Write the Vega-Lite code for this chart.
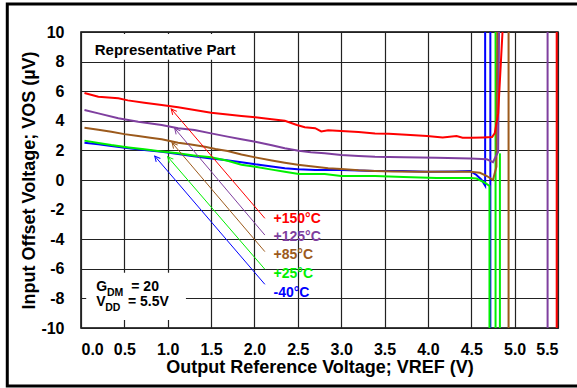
{
  "$schema": "https://vega.github.io/schema/vega-lite/v6.json",
  "width": 477,
  "height": 296,
  "autosize": {"type": "none"},
  "padding": {"left": 81, "top": 32, "right": 19, "bottom": 60},
  "background": "white",
  "config": {
    "font": "Liberation Sans",
    "view": {"stroke": "black", "strokeWidth": 1.5},
    "axis": {
      "grid": true, "gridColor": "#222", "gridWidth": 1.2, "domain": false, "ticks": false,
      "labelFont": "Liberation Sans", "labelFontWeight": "bold", "labelFontSize": 16, "labelColor": "black",
      "titleFont": "Liberation Sans", "titleFontWeight": "bold", "titleFontSize": 18, "titleColor": "black"
    }
  },
  "datasets": {
    "curves": [
      {"t":"-40°C","s":"b1","i":1,"x":0.04,"y":2.52},
      {"t":"-40°C","s":"b1","i":2,"x":0.2,"y":2.42},
      {"t":"-40°C","s":"b1","i":3,"x":0.35,"y":2.3},
      {"t":"-40°C","s":"b1","i":4,"x":0.55,"y":2.15},
      {"t":"-40°C","s":"b1","i":5,"x":0.73,"y":2.03},
      {"t":"-40°C","s":"b1","i":6,"x":0.93,"y":1.9},
      {"t":"-40°C","s":"b1","i":7,"x":1.12,"y":1.76},
      {"t":"-40°C","s":"b1","i":8,"x":1.3,"y":1.6},
      {"t":"-40°C","s":"b1","i":9,"x":1.5,"y":1.46},
      {"t":"-40°C","s":"b1","i":10,"x":1.66,"y":1.35},
      {"t":"-40°C","s":"b1","i":11,"x":1.85,"y":1.2},
      {"t":"-40°C","s":"b1","i":12,"x":2.01,"y":1.06},
      {"t":"-40°C","s":"b1","i":13,"x":2.2,"y":0.92},
      {"t":"-40°C","s":"b1","i":14,"x":2.35,"y":0.79},
      {"t":"-40°C","s":"b1","i":15,"x":2.5,"y":0.72},
      {"t":"-40°C","s":"b1","i":16,"x":2.7,"y":0.68},
      {"t":"-40°C","s":"b1","i":17,"x":3.0,"y":0.68},
      {"t":"-40°C","s":"b1","i":18,"x":3.2,"y":0.64},
      {"t":"-40°C","s":"b1","i":19,"x":3.39,"y":0.61},
      {"t":"-40°C","s":"b1","i":20,"x":3.7,"y":0.6},
      {"t":"-40°C","s":"b1","i":21,"x":4.0,"y":0.56},
      {"t":"-40°C","s":"b1","i":22,"x":4.3,"y":0.58},
      {"t":"-40°C","s":"b1","i":23,"x":4.49,"y":0.6},
      {"t":"-40°C","s":"b1","i":24,"x":4.56,"y":0.34},
      {"t":"-40°C","s":"b1","i":25,"x":4.62,"y":0.0},
      {"t":"-40°C","s":"b1","i":26,"x":4.66,"y":-0.38},
      {"t":"-40°C","s":"b1","i":27,"x":4.66,"y":10},
      {"t":"-40°C","s":"b2","i":28,"x":4.72,"y":-10},
      {"t":"-40°C","s":"b2","i":29,"x":4.72,"y":10},
      {"t":"+25°C","s":"g1","i":30,"x":0.04,"y":2.66},
      {"t":"+25°C","s":"g1","i":31,"x":0.2,"y":2.5},
      {"t":"+25°C","s":"g1","i":32,"x":0.35,"y":2.36},
      {"t":"+25°C","s":"g1","i":33,"x":0.55,"y":2.2},
      {"t":"+25°C","s":"g1","i":34,"x":0.73,"y":2.07},
      {"t":"+25°C","s":"g1","i":35,"x":0.93,"y":1.93},
      {"t":"+25°C","s":"g1","i":36,"x":1.12,"y":1.8},
      {"t":"+25°C","s":"g1","i":37,"x":1.3,"y":1.66},
      {"t":"+25°C","s":"g1","i":38,"x":1.5,"y":1.53},
      {"t":"+25°C","s":"g1","i":39,"x":1.69,"y":1.3},
      {"t":"+25°C","s":"g1","i":40,"x":1.85,"y":1.03},
      {"t":"+25°C","s":"g1","i":41,"x":2.01,"y":0.9},
      {"t":"+25°C","s":"g1","i":42,"x":2.2,"y":0.7},
      {"t":"+25°C","s":"g1","i":43,"x":2.35,"y":0.56},
      {"t":"+25°C","s":"g1","i":44,"x":2.51,"y":0.41},
      {"t":"+25°C","s":"g1","i":45,"x":2.81,"y":0.41},
      {"t":"+25°C","s":"g1","i":46,"x":3.0,"y":0.27},
      {"t":"+25°C","s":"g1","i":47,"x":3.39,"y":0.27},
      {"t":"+25°C","s":"g1","i":48,"x":3.72,"y":0.2},
      {"t":"+25°C","s":"g1","i":49,"x":4.1,"y":0.14},
      {"t":"+25°C","s":"g1","i":50,"x":4.49,"y":0.14},
      {"t":"+25°C","s":"g1","i":51,"x":4.56,"y":0.1},
      {"t":"+25°C","s":"g1","i":52,"x":4.66,"y":-0.2},
      {"t":"+25°C","s":"g1","i":53,"x":4.71,"y":-0.4},
      {"t":"+25°C","s":"g1","i":54,"x":4.71,"y":-10},
      {"t":"+25°C","s":"g2","i":55,"x":4.78,"y":-10},
      {"t":"+25°C","s":"g2","i":56,"x":4.78,"y":10},
      {"t":"+25°C","s":"g3","i":57,"x":4.83,"y":-10},
      {"t":"+25°C","s":"g3","i":58,"x":4.83,"y":1.8},
      {"t":"+85°C","s":"n1","i":59,"x":0.04,"y":3.53},
      {"t":"+85°C","s":"n1","i":60,"x":0.2,"y":3.4},
      {"t":"+85°C","s":"n1","i":61,"x":0.35,"y":3.26},
      {"t":"+85°C","s":"n1","i":62,"x":0.5,"y":3.1},
      {"t":"+85°C","s":"n1","i":63,"x":0.66,"y":2.97},
      {"t":"+85°C","s":"n1","i":64,"x":0.8,"y":2.85},
      {"t":"+85°C","s":"n1","i":65,"x":0.93,"y":2.75},
      {"t":"+85°C","s":"n1","i":66,"x":1.12,"y":2.52},
      {"t":"+85°C","s":"n1","i":67,"x":1.25,"y":2.42},
      {"t":"+85°C","s":"n1","i":68,"x":1.43,"y":2.25},
      {"t":"+85°C","s":"n1","i":69,"x":1.55,"y":2.1},
      {"t":"+85°C","s":"n1","i":70,"x":1.69,"y":1.96},
      {"t":"+85°C","s":"n1","i":71,"x":1.85,"y":1.72},
      {"t":"+85°C","s":"n1","i":72,"x":2.01,"y":1.53},
      {"t":"+85°C","s":"n1","i":73,"x":2.2,"y":1.32},
      {"t":"+85°C","s":"n1","i":74,"x":2.35,"y":1.17},
      {"t":"+85°C","s":"n1","i":75,"x":2.5,"y":1.03},
      {"t":"+85°C","s":"n1","i":76,"x":2.7,"y":0.9},
      {"t":"+85°C","s":"n1","i":77,"x":2.85,"y":0.8},
      {"t":"+85°C","s":"n1","i":78,"x":3.0,"y":0.74},
      {"t":"+85°C","s":"n1","i":79,"x":3.2,"y":0.66},
      {"t":"+85°C","s":"n1","i":80,"x":3.39,"y":0.61},
      {"t":"+85°C","s":"n1","i":81,"x":3.6,"y":0.58},
      {"t":"+85°C","s":"n1","i":82,"x":3.91,"y":0.56},
      {"t":"+85°C","s":"n1","i":83,"x":4.2,"y":0.56},
      {"t":"+85°C","s":"n1","i":84,"x":4.49,"y":0.56},
      {"t":"+85°C","s":"n1","i":85,"x":4.6,"y":0.49},
      {"t":"+85°C","s":"n1","i":86,"x":4.68,"y":0.27},
      {"t":"+85°C","s":"n1","i":87,"x":4.75,"y":0.0},
      {"t":"+85°C","s":"n1","i":88,"x":4.79,"y":0.9},
      {"t":"+85°C","s":"n1","i":89,"x":4.8,"y":10},
      {"t":"+85°C","s":"n2","i":90,"x":4.93,"y":-10},
      {"t":"+85°C","s":"n2","i":91,"x":4.93,"y":10},
      {"t":"+125°C","s":"p1","i":92,"x":0.04,"y":4.73},
      {"t":"+125°C","s":"p1","i":93,"x":0.2,"y":4.5},
      {"t":"+125°C","s":"p1","i":94,"x":0.43,"y":4.17},
      {"t":"+125°C","s":"p1","i":95,"x":0.66,"y":3.94},
      {"t":"+125°C","s":"p1","i":96,"x":0.93,"y":3.72},
      {"t":"+125°C","s":"p1","i":97,"x":1.12,"y":3.49},
      {"t":"+125°C","s":"p1","i":98,"x":1.31,"y":3.38},
      {"t":"+125°C","s":"p1","i":99,"x":1.5,"y":3.15},
      {"t":"+125°C","s":"p1","i":100,"x":1.69,"y":2.93},
      {"t":"+125°C","s":"p1","i":101,"x":1.85,"y":2.75},
      {"t":"+125°C","s":"p1","i":102,"x":2.01,"y":2.59},
      {"t":"+125°C","s":"p1","i":103,"x":2.2,"y":2.35},
      {"t":"+125°C","s":"p1","i":104,"x":2.35,"y":2.14},
      {"t":"+125°C","s":"p1","i":105,"x":2.51,"y":1.98},
      {"t":"+125°C","s":"p1","i":106,"x":2.65,"y":1.88},
      {"t":"+125°C","s":"p1","i":107,"x":2.81,"y":1.8},
      {"t":"+125°C","s":"p1","i":108,"x":3.0,"y":1.69},
      {"t":"+125°C","s":"p1","i":109,"x":3.2,"y":1.62},
      {"t":"+125°C","s":"p1","i":110,"x":3.39,"y":1.57},
      {"t":"+125°C","s":"p1","i":111,"x":3.72,"y":1.53},
      {"t":"+125°C","s":"p1","i":112,"x":4.1,"y":1.51},
      {"t":"+125°C","s":"p1","i":113,"x":4.49,"y":1.46},
      {"t":"+125°C","s":"p1","i":114,"x":4.68,"y":1.4},
      {"t":"+125°C","s":"p1","i":115,"x":4.75,"y":1.2},
      {"t":"+125°C","s":"p1","i":116,"x":4.81,"y":1.91},
      {"t":"+125°C","s":"p1","i":117,"x":4.82,"y":10},
      {"t":"+125°C","s":"p2","i":118,"x":5.38,"y":-10},
      {"t":"+125°C","s":"p2","i":119,"x":5.38,"y":10},
      {"t":"+150°C","s":"r1","i":120,"x":0.04,"y":5.88},
      {"t":"+150°C","s":"r1","i":121,"x":0.2,"y":5.63},
      {"t":"+150°C","s":"r1","i":122,"x":0.43,"y":5.52},
      {"t":"+150°C","s":"r1","i":123,"x":0.54,"y":5.38},
      {"t":"+150°C","s":"r1","i":124,"x":0.73,"y":5.22},
      {"t":"+150°C","s":"r1","i":125,"x":0.93,"y":5.07},
      {"t":"+150°C","s":"r1","i":126,"x":1.12,"y":4.91},
      {"t":"+150°C","s":"r1","i":127,"x":1.31,"y":4.73},
      {"t":"+150°C","s":"r1","i":128,"x":1.5,"y":4.55},
      {"t":"+150°C","s":"r1","i":129,"x":1.69,"y":4.42},
      {"t":"+150°C","s":"r1","i":130,"x":1.85,"y":4.32},
      {"t":"+150°C","s":"r1","i":131,"x":2.01,"y":4.24},
      {"t":"+150°C","s":"r1","i":132,"x":2.2,"y":4.1},
      {"t":"+150°C","s":"r1","i":133,"x":2.35,"y":4.0},
      {"t":"+150°C","s":"r1","i":134,"x":2.49,"y":3.72},
      {"t":"+150°C","s":"r1","i":135,"x":2.58,"y":3.56},
      {"t":"+150°C","s":"r1","i":136,"x":2.7,"y":3.5},
      {"t":"+150°C","s":"r1","i":137,"x":2.77,"y":3.28},
      {"t":"+150°C","s":"r1","i":138,"x":2.85,"y":3.36},
      {"t":"+150°C","s":"r1","i":139,"x":3.0,"y":3.31},
      {"t":"+150°C","s":"r1","i":140,"x":3.2,"y":3.24},
      {"t":"+150°C","s":"r1","i":141,"x":3.39,"y":3.15},
      {"t":"+150°C","s":"r1","i":142,"x":3.55,"y":3.12},
      {"t":"+150°C","s":"r1","i":143,"x":3.75,"y":3.05},
      {"t":"+150°C","s":"r1","i":144,"x":3.99,"y":2.97},
      {"t":"+150°C","s":"r1","i":145,"x":4.17,"y":2.88},
      {"t":"+150°C","s":"r1","i":146,"x":4.33,"y":2.97},
      {"t":"+150°C","s":"r1","i":147,"x":4.4,"y":2.86},
      {"t":"+150°C","s":"r1","i":148,"x":4.5,"y":2.86},
      {"t":"+150°C","s":"r1","i":149,"x":4.64,"y":2.88},
      {"t":"+150°C","s":"r1","i":150,"x":4.74,"y":2.9},
      {"t":"+150°C","s":"r1","i":151,"x":4.77,"y":3.15},
      {"t":"+150°C","s":"r1","i":152,"x":4.81,"y":4.5},
      {"t":"+150°C","s":"r1","i":153,"x":4.86,"y":10},
      {"t":"+150°C","s":"r2","i":154,"x":5.485,"y":-10},
      {"t":"+150°C","s":"r2","i":155,"x":5.485,"y":10}
    ],
    "arrows": [
      {"t":"+150°C","x":1.04,"y":4.8,"x2":2.12,"y2":-2.59},
      {"t":"+125°C","x":1.08,"y":3.49,"x2":2.12,"y2":-3.72},
      {"t":"+85°C","x":1.05,"y":2.52,"x2":2.12,"y2":-4.84},
      {"t":"+25°C","x":1.0,"y":1.57,"x2":2.12,"y2":-6.03},
      {"t":"-40°C","x":0.85,"y":1.62,"x2":2.12,"y2":-7.05}
    ],
    "labels": [
      {"t":"+150°C","x":2.22,"y":-2.66},
      {"t":"+125°C","x":2.22,"y":-3.83},
      {"t":"+85°C","x":2.22,"y":-5.07},
      {"t":"+25°C","x":2.22,"y":-6.35},
      {"t":"-40°C","x":2.22,"y":-7.66}
    ]
  },
  "encoding": {
    "x": {
      "field": "x", "type": "quantitative",
      "scale": {"domain": [0, 5.5], "nice": false, "zero": false},
      "axis": {"values": [0,0.5,1,1.5,2,2.5,3,3.5,4,4.5,5,5.5], "format": ".1f", "labelPadding": 13, "titlePadding": 1, "title": "Output Reference Voltage; VREF (V)"}
    },
    "y": {
      "field": "y", "type": "quantitative",
      "scale": {"domain": [-10, 10], "nice": false, "zero": false},
      "axis": {"values": [-10,-8,-6,-4,-2,0,2,4,6,8,10], "labelExpr": "'' + datum.value", "labelPadding": 17, "titlePadding": 2, "title": "Input Offset Voltage; VOS (µV)"}
    }
  },
  "layer": [
    {
      "data": {"values": [
        {"x": 0.03, "x2": 1.97, "y": 9.86, "y2": 8.13},
        {"x": 0.06, "x2": 1.21, "y": -6.26, "y2": -9.46}
      ]},
      "mark": {"type": "rect", "fill": "white"},
      "encoding": {"x2": {"field": "x2"}, "y2": {"field": "y2"}}
    },
    {
      "data": {"name": "curves"},
      "mark": {"type": "line", "strokeWidth": 2},
      "encoding": {
        "detail": {"field": "s"},
        "order": {"field": "i", "type": "quantitative"},
        "color": {"field": "t", "type": "nominal", "legend": null,
          "scale": {"domain": ["-40°C","+25°C","+85°C","+125°C","+150°C"], "range": ["#0000FF","#00F000","#9C5A1C","#7F3F9F","#FF0000"]}}
      }
    },
    {
      "data": {"name": "arrows"},
      "mark": {"type": "rule", "strokeWidth": 1},
      "encoding": {
        "x2": {"field": "x2"}, "y2": {"field": "y2"},
        "color": {"field": "t", "type": "nominal", "legend": null}
      }
    },
    {
      "data": {"name": "arrows"},
      "mark": {"type": "point", "shape": "M-0.55,1.1L0,0L0.55,1.1", "filled": false, "strokeWidth": 1, "size": 100, "angle": 319.5, "opacity": 1},
      "encoding": {
        "color": {"field": "t", "type": "nominal", "legend": null}
      }
    },
    {
      "data": {"name": "labels"},
      "mark": {"type": "text", "align": "left", "baseline": "middle", "fontSize": 14, "fontWeight": "bold"},
      "encoding": {
        "text": {"field": "t"},
        "color": {"field": "t", "type": "nominal", "legend": null}
      }
    },
    {
      "data": {"values": [
        {"x": 0.158, "y": 8.8, "txt": "Representative Part"}
      ]},
      "mark": {"type": "text", "align": "left", "baseline": "middle", "fontSize": 15, "fontWeight": "bold", "color": "black"},
      "encoding": {"text": {"field": "txt"}}
    },
    {
      "data": {"values": [
        {"x": 0.176, "y": -7.21, "txt": "G"},
        {"x": 0.58, "y": -7.21, "txt": "= 20"},
        {"x": 0.176, "y": -8.22, "txt": "V"},
        {"x": 0.542, "y": -8.22, "txt": "= 5.5V"}
      ]},
      "mark": {"type": "text", "align": "left", "baseline": "middle", "fontSize": 14, "fontWeight": "bold", "color": "black"},
      "encoding": {"text": {"field": "txt"}}
    },
    {
      "data": {"values": [
        {"x": 0.3, "y": -7.62, "txt": "DM"},
        {"x": 0.28, "y": -8.62, "txt": "DD"}
      ]},
      "mark": {"type": "text", "align": "left", "baseline": "middle", "fontSize": 10.5, "fontWeight": "bold", "color": "black"},
      "encoding": {"text": {"field": "txt"}}
    },
    {
      "data": {"values": [
        {"x": -0.85, "x2": 5.9, "y": 11.89, "y2": -13.92}
      ]},
      "mark": {"type": "rect", "filled": false, "stroke": "black", "strokeWidth": 3, "clip": false},
      "encoding": {"x2": {"field": "x2"}, "y2": {"field": "y2"}}
    }
  ]
}
